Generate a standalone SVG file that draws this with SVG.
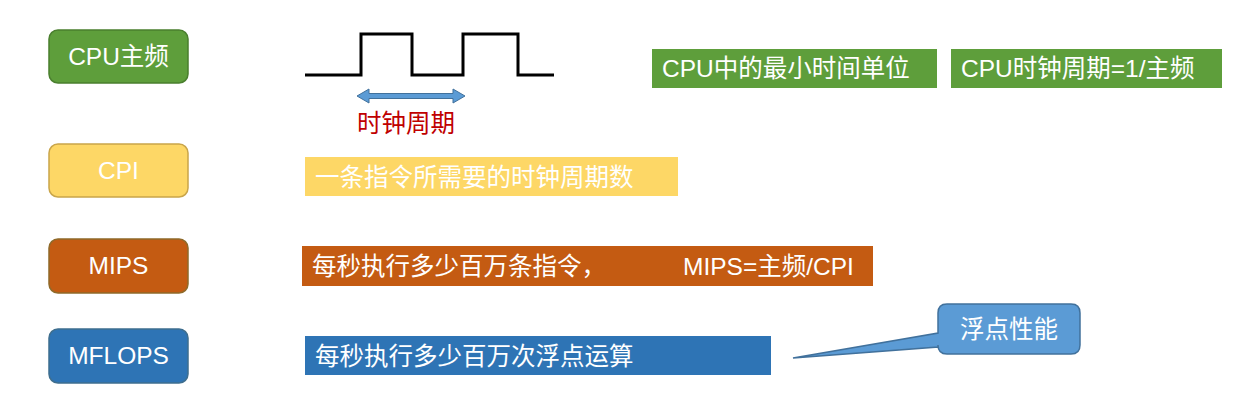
<svg xmlns="http://www.w3.org/2000/svg" width="1238" height="407" viewBox="0 0 1238 407">
<style>
  .t { font-family: "Liberation Sans", "Noto Sans CJK SC", sans-serif; font-size: 24.5px; fill: #ffffff; }
  .c { text-anchor: middle; }
  .node { stroke-width: 1.5; }
</style>
<rect x="0" y="0" width="1238" height="407" fill="#ffffff"/>
<g id="node-cpu-freq">
  <rect class="node" x="49" y="30" width="139" height="53" rx="9" fill="#5e9e3b" stroke="#4a7f2e"/>
  <text class="t c" x="118.5" y="65">CPU主频</text>
</g>
<g id="node-cpi">
  <rect class="node" x="49" y="144" width="139" height="53" rx="9" fill="#fdd766" stroke="#c9a54a"/>
  <text class="t c" x="118.5" y="179">CPI</text>
</g>
<g id="node-mips">
  <rect class="node" x="49" y="239" width="139" height="54" rx="9" fill="#c45b12" stroke="#8f6a2a"/>
  <text class="t c" x="118.5" y="274">MIPS</text>
</g>
<g id="node-mflops">
  <rect class="node" x="49" y="329" width="139" height="54" rx="9" fill="#2e74b5" stroke="#3e6e8e"/>
  <text class="t c" x="118.5" y="364">MFLOPS</text>
</g>
<g id="clock-wave">
  <polyline points="305,75 361,75 361,34 412,34 412,75 463,75 463,34 518,34 518,75 554,75" fill="none" stroke="#000000" stroke-width="3"/>
  <polygon points="357,96 369,89 369,93.5 453,93.5 453,89 465,96 453,103 453,98.5 369,98.5 369,103" fill="#5b9bd5" stroke="#41719c" stroke-width="1"/>
  <text x="406" y="132" text-anchor="middle" style="font-family:'Liberation Sans','Noto Sans CJK SC',sans-serif;font-size:24.5px;fill:#c00000">时钟周期</text>
</g>
<g id="label-min-unit">
  <rect x="652" y="49" width="285" height="39" fill="#5e9e3b"/>
  <text class="t" x="662" y="77">CPU中的最小时间单位</text>
</g>
<g id="label-period">
  <rect x="951" y="49" width="271" height="39" fill="#5e9e3b"/>
  <text class="t" x="961" y="77">CPU时钟周期=1/主频</text>
</g>
<g id="label-cpi">
  <rect x="305" y="157" width="373" height="39" fill="#fdd766"/>
  <text class="t" x="315" y="186">一条指令所需要的时钟周期数</text>
</g>
<g id="label-mips">
  <rect x="302" y="246" width="571" height="40" fill="#c45b12"/>
  <text class="t" x="312" y="275">每秒执行多少百万条指令，</text>
  <text class="t" x="683" y="275">MIPS=主频/CPI</text>
</g>
<g id="label-mflops">
  <rect x="305" y="336" width="466" height="39" fill="#2e74b5"/>
  <text class="t" x="315" y="365">每秒执行多少百万次浮点运算</text>
</g>
<g id="callout-float">
  <path d="M947,304 H1071 Q1080,304 1080,313 V345 Q1080,354 1071,354 H947 Q938,354 938,345 V347 L793,358 L938,333 V313 Q938,304 947,304 Z" fill="#5b9bd5" stroke="#41719c" stroke-width="1.5"/>
  <text class="t c" x="1009" y="338">浮点性能</text>
</g>
</svg>
